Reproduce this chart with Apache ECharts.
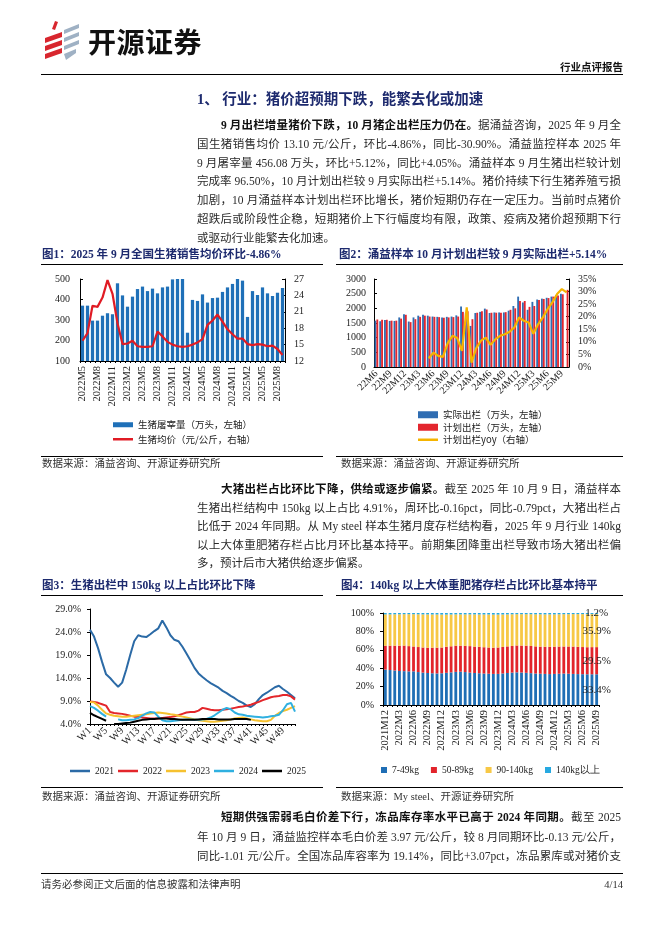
<!DOCTYPE html>
<html lang="zh-CN">
<head>
<meta charset="utf-8">
<script src="https://cdn.jsdelivr.net/npm/echarts@6.0.0/dist/echarts.min.js"></script>
<style>
html,body{margin:0;padding:0;background:#fff;}
#page{position:relative;width:662px;height:936px;overflow:hidden;background:#fff;}
#chart{position:absolute;left:0;top:0;width:662px;height:936px;}
.t{position:absolute;white-space:nowrap;font-family:"Liberation Serif","Noto Sans CJK SC",serif;color:#222;z-index:2;}
.p{position:absolute;left:197px;width:424px;height:19px;line-height:19px;font-size:11.5px;text-align:justify;text-align-last:justify;white-space:nowrap;font-family:"Liberation Serif","Noto Sans CJK SC",serif;color:#2a2a2a;z-index:2;}
.p.ind{padding-left:24px;width:400px;}
.p.last{text-align-last:left;}
.p b{font-weight:bold;color:#111;}
.hr{position:absolute;height:0;border-top:1px solid #000;z-index:2;}
.ct{font-size:11.5px;line-height:14px;font-weight:bold;color:#1d2a6e;}
.src{font-size:10.5px;line-height:13px;color:#333;}
</style>
</head>
<body>
<div id="page">
<div id="chart"></div>

<div class="t" style="left:88px;top:24px;font-size:28px;line-height:34px;font-weight:bold;color:#111;font-family:'Noto Sans CJK SC',sans-serif;letter-spacing:0.5px;">开源证券</div>
<div class="t" style="right:39px;top:61px;font-size:10.5px;line-height:13px;font-weight:bold;color:#111;">行业点评报告</div>
<div class="hr" style="left:41px;top:74px;width:582px;"></div>

<div class="t" style="left:197px;top:90px;font-size:14.5px;line-height:18px;font-weight:bold;color:#1d2a6e;">1、 行业：猪价超预期下跌，能繁去化或加速</div>

<div class="p ind" style="top:115.5px;"><b>9 月出栏增量猪价下跌，10 月猪企出栏压力仍在。</b>据涌益咨询，2025 年 9 月全</div>
<div class="p" style="top:134.5px;">国生猪销售均价 13.10 元/公斤，环比-4.86%，同比-30.90%。涌益监控样本 2025 年</div>
<div class="p" style="top:153.5px;">9 月屠宰量 456.08 万头，环比+5.12%，同比+4.05%。涌益样本 9 月生猪出栏较计划</div>
<div class="p" style="top:172px;">完成率 96.50%，10 月计划出栏较 9 月实际出栏+5.14%。猪价持续下行生猪养殖亏损</div>
<div class="p" style="top:190.5px;">加剧，10 月涌益样本计划出栏环比增长，猪价短期仍存在一定压力。当前时点猪价</div>
<div class="p" style="top:209.5px;">超跌后或阶段性企稳，短期猪价上下行幅度均有限，政策、疫病及猪价超预期下行</div>
<div class="p last" style="top:228.5px;">或驱动行业能繁去化加速。</div>

<div class="t ct" style="left:42px;top:247px;">图1：2025 年 9 月全国生猪销售均价环比-4.86%</div>
<div class="t ct" style="left:339px;top:247px;">图2：涌益样本 10 月计划出栏较 9 月实际出栏+5.14%</div>
<div class="hr" style="left:41px;top:264px;width:282px;"></div>
<div class="hr" style="left:336px;top:264px;width:287px;"></div>
<div class="hr" style="left:41px;top:456px;width:282px;"></div>
<div class="hr" style="left:336px;top:456px;width:287px;"></div>
<div class="t src" style="left:42px;top:457px;">数据来源：涌益咨询、开源证券研究所</div>
<div class="t src" style="left:341px;top:457px;">数据来源：涌益咨询、开源证券研究所</div>

<div class="p ind" style="top:480px;"><b>大猪出栏占比环比下降，供给或逐步偏紧。</b>截至 2025 年 10 月 9 日，涌益样本</div>
<div class="p" style="top:498.5px;">生猪出栏结构中 150kg 以上占比 4.91%，周环比-0.16pct，同比-0.79pct，大猪出栏占</div>
<div class="p" style="top:517px;">比低于 2024 年同期。从 My steel 样本生猪月度存栏结构看，2025 年 9 月行业 140kg</div>
<div class="p" style="top:535.5px;">以上大体重肥猪存栏占比月环比基本持平。前期集团降重出栏导致市场大猪出栏偏</div>
<div class="p last" style="top:554px;">多，预计后市大猪供给逐步偏紧。</div>

<div class="t ct" style="left:42px;top:578px;">图3：生猪出栏中 150kg 以上占比环比下降</div>
<div class="t ct" style="left:341px;top:578px;">图4：140kg 以上大体重肥猪存栏占比环比基本持平</div>
<div class="hr" style="left:41px;top:595px;width:282px;"></div>
<div class="hr" style="left:336px;top:595px;width:287px;"></div>
<div class="hr" style="left:41px;top:787px;width:282px;"></div>
<div class="hr" style="left:336px;top:787px;width:287px;"></div>
<div class="t src" style="left:42px;top:789.5px;">数据来源：涌益咨询、开源证券研究所</div>
<div class="t src" style="left:341px;top:789.5px;">数据来源：My steel、开源证券研究所</div>

<div class="p ind" style="top:808px;"><b>短期供强需弱毛白价差下行，冻品库存率水平已高于 2024 年同期。</b>截至 2025</div>
<div class="p" style="top:827.5px;">年 10 月 9 日，涌益监控样本毛白价差 3.97 元/公斤，较 8 月同期环比-0.13 元/公斤，</div>
<div class="p" style="top:846.5px;">同比-1.01 元/公斤。全国冻品库容率为 19.14%，同比+3.07pct，冻品累库或对猪价支</div>

<div class="hr" style="left:41px;top:873px;width:582px;border-top-width:1.5px;"></div>
<div class="t" style="left:41px;top:877.5px;font-size:10.5px;line-height:13px;color:#333;">请务必参阅正文后面的信息披露和法律声明</div>
<div class="t" style="right:39px;top:877.5px;font-size:10.5px;line-height:13px;color:#333;">4/14</div>
</div>

<script>
// ---------- Figure 1 ----------
const c1Months = ['2022M5','2022M6','2022M7','2022M8','2022M9','2022M10','2022M11','2022M12',
  '2023M1','2023M2','2023M3','2023M4','2023M5','2023M6','2023M7','2023M8','2023M9','2023M10','2023M11','2023M12',
  '2024M1','2024M2','2024M3','2024M4','2024M5','2024M6','2024M7','2024M8','2024M9','2024M10','2024M11','2024M12',
  '2025M1','2025M2','2025M3','2025M4','2025M5','2025M6','2025M7','2025M8','2025M9'];
const c1Slaughter = [370,370,297,297,321,333,328,479,420,365,414,451,463,441,453,430,459,463,498,503,
  503,238,398,393,425,385,407,409,437,459,476,503,492,315,441,422,459,430,417,433,456.08];
const c1Price = [15.7,17.1,22.1,21.9,23.6,26.8,24.3,18.9,15.1,15.2,15.7,14.7,14.6,14.6,14.7,17.4,16.5,15.5,15.0,14.7,
  14.6,14.7,15.0,15.4,16.0,18.6,19.4,20.5,19.2,17.8,16.9,16.1,16.1,15.1,14.9,15.1,15.0,14.7,14.8,14.2,13.1];
const c1Names = ['生猪屠宰量（万头，左轴）','生猪均价（元/公斤，右轴）'];

// ---------- Figure 2 ----------
const c2Months = ['22M6','22M7','22M8','22M9','22M10','22M11','22M12',
  '23M1','23M2','23M3','23M4','23M5','23M6','23M7','23M8','23M9','23M10','23M11','23M12',
  '24M1','24M2','24M3','24M4','24M5','24M6','24M7','24M8','24M9','24M10','24M11','24M12',
  '25M1','25M2','25M3','25M4','25M5','25M6','25M7','25M8','25M9','25M10'];
const c2Actual = [1580,1560,1600,1570,1570,1690,1800,1550,1690,1750,1780,1750,1720,1710,1690,1710,1720,1760,2060,
  1850,1400,1840,1880,1990,1840,1860,1860,1860,1920,2080,2400,2200,1950,2220,2300,2330,2360,2400,2450,2500,null];
const c2Plan = [1620,1610,1610,1580,1580,1650,1780,1530,1630,1710,1750,1720,1710,1700,1680,1690,1700,1720,1880,
  1900,1630,1850,1900,1960,1850,1850,1850,1870,1950,2000,2250,2250,2050,2080,2280,2320,2350,2400,2440,2480,2630];
const c2Yoy = [null,null,null,null,null,null,null,null,null,null,null,
  3.5,5.7,4.4,4.0,9.5,12.4,11.5,6.4,23.7,1.7,7.5,10.5,11.7,8.8,11.0,12.4,13.0,14.0,15.7,
  19.7,18.4,17.7,13.2,17.0,19.7,23.0,25.7,29.0,31.0,29.7];
const c2Names = ['实际出栏（万头，左轴）','计划出栏（万头，左轴）','计划出栏yoy（右轴）'];

// ---------- Figure 3 ----------
const c3Weeks = ['W1','W2','W3','W4','W5','W6','W7','W8','W9','W10','W11','W12','W13','W14','W15','W16','W17','W18',
  'W19','W20','W21','W22','W23','W24','W25','W26','W27','W28','W29','W30','W31','W32','W33','W34','W35','W36',
  'W37','W38','W39','W40','W41','W42','W43','W44','W45','W46','W47','W48','W49','W50','W51','W52'];
const c3Y2021 = [24.5,23.0,20.5,17.5,14.8,14.0,13.0,12.1,13.0,15.8, 19.0,22.0,23.3,23.0,22.9,23.5,24.2,24.8,26.5,25.0,
  23.3,22.3,22.0,20.8,19.3,17.8,16.2,15.0,14.2,13.5, 12.9,12.4,11.9,11.2,10.7,10.1,9.6,9.0,8.6,8.0,
  7.7,8.3,9.4,10.3,10.8,11.4,12.0,12.3,11.6,11.0, 10.3,9.6];
const c3Y2022 = [8.9,8.8,8.6,8.3,8.0,6.6,6.4,6.3,6.2,6.0, 5.8,5.6,5.5,5.4,5.3,5.2,5.2,5.2,5.3,5.4,
  5.5,5.7,5.9,6.2,6.5,6.6,6.6,6.9,7.5,7.3, 7.1,7.0,7.0,7.1,7.2,7.3,7.5,7.7,7.8,8.0,
  8.2,8.5,8.8,9.2,9.5,9.8,10.0,10.1,10.3,10.3, 10.0,9.3];
const c3Y2023 = [8.8,8.7,8.0,7.1,6.3,6.0,5.8,5.7,5.6,5.6, 5.7,5.8,5.9,6.0,6.1,6.3,6.4,6.5,6.4,6.3,
  6.1,6.0,5.8,5.6,5.4,5.2,5.0,4.8,4.7,4.6, 4.5,4.5,4.6,4.7,4.8,5.0,5.2,5.3,5.4,5.2,
  5.0,4.8,4.7,4.6,4.6,4.9,5.8,6.4,6.8,7.1, 7.5,7.9];
const c3Y2024 = [7.9,7.5,6.9,6.2,5.6,null,null,5.0,4.8,4.8, 4.9,5.0,5.3,5.8,6.3,6.6,6.5,5.6,4.8,4.6,
  4.6,4.7,4.8,4.9,5.0,5.0,4.9,4.9,5.0,5.1, 5.4,5.9,6.5,7.1,7.5,7.2,6.5,6.1,6.0,5.8,
  5.7,5.6,5.5,5.4,5.5,5.7,5.8,6.0,7.0,8.3, 8.6,6.7];
const c3Y2025 = [6.4,5.9,5.5,5.1,4.7,null,4.0,4.0,4.1,4.2, 4.3,4.5,4.7,4.9,5.0,5.1,5.1,5.2,5.2,5.2,
  5.1,5.1,5.0,4.9,4.9,4.9,4.9,5.0,5.1,5.1, 5.1,5.1,5.0,5.0,5.0,5.0,5.1,5.1,5.1,5.1, 4.9];
const c3Ticks = [4,9,14,19,24,29];
const c3Years = ['2021','2022','2023','2024','2025'];

// ---------- Figure 4 ----------
const c4Months = ['2021M12','2022M1','2022M2','2022M3','2022M4','2022M5','2022M6','2022M7','2022M8','2022M9','2022M10','2022M11','2022M12',
  '2023M1','2023M2','2023M3','2023M4','2023M5','2023M6','2023M7','2023M8','2023M9','2023M10','2023M11','2023M12',
  '2024M1','2024M2','2024M3','2024M4','2024M5','2024M6','2024M7','2024M8','2024M9','2024M10','2024M11','2024M12',
  '2025M1','2025M2','2025M3','2025M4','2025M5','2025M6','2025M7','2025M8','2025M9'];
const c4W7_49 = [38.5,38.0,37.5,37.0,36.8,36.5,36.6,35.8,35.2,34.8,34.5,34.3,34.5,35.0,35.5,36.0,36.2,35.8,35.2,34.8,
  34.5,34.2,34.0,33.8,33.8,34.3,34.8,35.2,35.5,35.3,35.0,34.6,34.2,34.0,33.8,33.6,33.8,34.0,34.2,34.0,
  33.8,33.6,33.5,33.4,33.4,33.4];
const c4W50_89 = [26.0,26.5,27.0,27.5,27.8,27.5,27.0,27.2,27.3,27.5,27.8,28.0,28.0,28.3,28.3,28.5,28.3,28.5,28.8,28.7,
  28.8,28.6,28.5,28.5,28.7,28.8,28.9,29.0,29.2,29.3,29.5,29.6,29.5,29.4,29.5,29.6,29.6,29.5,29.4,29.6,
  29.7,29.6,29.5,29.4,29.5,29.5];
const c4W90_140 = [34.0,34.0,34.1,34.1,34.1,34.7,35.1,35.6,36.0,36.2,36.1,36.1,35.8,35.0,34.6,34.0,34.0,34.2,34.5,35.0,
  35.1,35.6,35.9,36.0,35.8,35.3,34.8,34.4,34.0,34.1,34.2,34.5,34.9,35.2,35.2,35.3,35.1,35.1,35.1,35.1,
  35.3,35.6,35.8,36.0,35.9,35.9];
const c4W140 = [1.5,1.5,1.4,1.4,1.3,1.3,1.3,1.4,1.5,1.5,1.6,1.6,1.7,1.7,1.6,1.5,1.5,1.5,1.5,1.5,
  1.6,1.6,1.6,1.7,1.7,1.6,1.5,1.4,1.3,1.3,1.3,1.3,1.4,1.4,1.5,1.5,1.5,1.4,1.3,1.3,
  1.2,1.2,1.2,1.2,1.2,1.2];
const c4Names = ['7-49kg','50-89kg','90-140kg','140kg以上'];

// ---------- build ----------
const serif = 'Liberation Serif';
const cjk = 'Noto Sans CJK SC';
const lab = {color:'#222', fontSize:10, fontFamily:serif};
const axl = {show:true, lineStyle:{color:'#000', width:1}};
const noSplit = {show:false};
const lineIcon = 'path://M0,0L24,0L24,3L0,3Z';

function lastLabel(arr){
  return arr.map((v,i)=> i===arr.length-1 ? {value:v, label:{show:true, position:'inside', formatter:'{c}%', color:'#222', fontSize:11, fontFamily:serif}} : v);
}

const red = '#d8262e', grey = '#9fb1c4';
const logo = [
  {type:'polygon', shape:{points:[[52,29],[55,21],[58,22],[55,30]]}, style:{fill:red}},
  {type:'polygon', shape:{points:[[45,38],[62,32],[62,37],[45,43]]}, style:{fill:red}},
  {type:'polygon', shape:{points:[[45,46],[62,40],[62,45],[45,51]]}, style:{fill:red}},
  {type:'polygon', shape:{points:[[45,54],[62,48],[62,53],[45,59]]}, style:{fill:red}},
  {type:'polygon', shape:{points:[[64,30],[79,24],[79,28],[64,34]]}, style:{fill:grey}},
  {type:'polygon', shape:{points:[[64,38],[79,32],[79,36],[64,42]]}, style:{fill:grey}},
  {type:'polygon', shape:{points:[[64,46],[79,40],[79,44],[64,50]]}, style:{fill:grey}},
  {type:'polygon', shape:{points:[[64,54],[76,49],[76,53],[66,60]]}, style:{fill:grey}}
];

const chart = echarts.init(document.getElementById('chart'));
chart.setOption({
  animation:false,
  backgroundColor:'#fff',
  textStyle:{fontFamily:serif},
  graphic: logo,
  grid:[
    {left:80, top:279, width:205, height:82},
    {left:374, top:279, width:195, height:88},
    {left:90, top:609, width:205, height:115},
    {left:383, top:613, width:216, height:92}
  ],
  xAxis:[
    {type:'category', gridIndex:0, data:c1Months, axisLine:axl, axisTick:{show:true, interval:0, length:2}, axisLabel:{...lab, fontSize:10.5, rotate:90, interval:2, margin:5, hideOverlap:false, showMinLabel:true}},
    {type:'category', gridIndex:1, data:c2Months, axisLine:axl, axisTick:{show:false}, axisLabel:{...lab, fontSize:10, rotate:45, interval:2, margin:5, hideOverlap:false, showMinLabel:true}},
    {type:'category', gridIndex:2, data:c3Weeks, boundaryGap:false, axisLine:axl, axisTick:{show:true, interval:0, length:2}, axisLabel:{...lab, fontSize:10.5, rotate:45, interval:3, margin:5, hideOverlap:false, showMinLabel:true}},
    {type:'category', gridIndex:3, data:c4Months, axisLine:axl, axisTick:{show:true, interval:0, length:2}, axisLabel:{...lab, fontSize:10.5, rotate:90, interval:2, margin:5, hideOverlap:false, showMinLabel:true}}
  ],
  yAxis:[
    {type:'value', gridIndex:0, min:100, max:500, interval:100, axisLine:axl, axisTick:{show:true, inside:true, length:3}, splitLine:noSplit, axisLabel:{...lab, margin:10}},
    {type:'value', gridIndex:0, position:'right', min:12, max:27, interval:3, axisLine:axl, axisTick:{show:true, inside:true, length:3}, splitLine:noSplit, axisLabel:{...lab, margin:9}},
    {type:'value', gridIndex:1, min:0, max:3000, interval:500, axisLine:axl, axisTick:{show:true, inside:true, length:3}, splitLine:noSplit, axisLabel:{...lab, margin:8, formatter:v=>String(v)}},
    {type:'value', gridIndex:1, position:'right', min:0, max:35, interval:5, axisLine:axl, axisTick:{show:true, inside:true, length:3}, splitLine:noSplit, axisLabel:{...lab, margin:9, formatter:'{value}%'}},
    {type:'value', gridIndex:2, min:4, max:29, axisLine:axl, axisTick:{show:true, length:3, customValues:c3Ticks}, splitLine:noSplit, axisLabel:{...lab, margin:9, customValues:c3Ticks, formatter:v=>v.toFixed(1)+'%'}},
    {type:'value', gridIndex:3, min:0, max:100, interval:20, axisLine:axl, axisTick:{show:true, length:3}, splitLine:noSplit, axisLabel:{...lab, margin:9, formatter:'{value}%'}}
  ],
  legend:[
    {orient:'vertical', left:108, top:415, itemWidth:20, itemHeight:5, itemGap:5,
     textStyle:{fontSize:9.5, color:'#222', fontFamily:cjk},
     data:[{name:c1Names[0], icon:'rect'}, {name:c1Names[1], icon:lineIcon}]},
    {orient:'vertical', left:413, top:405, itemWidth:20, itemHeight:7, itemGap:3,
     textStyle:{fontSize:9.5, color:'#222', fontFamily:cjk},
     data:[{name:c2Names[0], icon:'rect'}, {name:c2Names[1], icon:'rect'}, {name:c2Names[2], icon:lineIcon}]},
    {orient:'horizontal', left:65, top:761, itemWidth:20, itemHeight:6, itemGap:4,
     textStyle:{fontSize:9.5, color:'#222', fontFamily:serif},
     data:c3Years.map(n=>({name:n, icon:lineIcon}))},
    {orient:'horizontal', left:376, top:760, itemWidth:6, itemHeight:6, itemGap:12,
     textStyle:{fontSize:9.5, color:'#222', fontFamily:serif},
     data:c4Names.map(n=>({name:n, icon:'rect'}))}
  ],
  series:[
    {name:c1Names[0], type:'bar', xAxisIndex:0, yAxisIndex:0, data:c1Slaughter, barCategoryGap:'35%', itemStyle:{color:'#1f70b8'}},
    {name:c1Names[1], type:'line', xAxisIndex:0, yAxisIndex:1, data:c1Price, symbol:'none', lineStyle:{color:'#e01b24', width:2.2}, itemStyle:{color:'#e01b24'}},
    {name:c2Names[0], type:'bar', xAxisIndex:1, yAxisIndex:2, data:c2Actual, barGap:'0%', barCategoryGap:'22%', itemStyle:{color:'#2f6db2'}},
    {name:c2Names[1], type:'bar', xAxisIndex:1, yAxisIndex:2, data:c2Plan, barGap:'0%', barCategoryGap:'22%', itemStyle:{color:'#e3262e'}},
    {name:c2Names[2], type:'line', xAxisIndex:1, yAxisIndex:3, data:c2Yoy, symbol:'none', connectNulls:false, lineStyle:{color:'#f5b400', width:2.2}, itemStyle:{color:'#f5b400'}},
    {name:c3Years[0], type:'line', xAxisIndex:2, yAxisIndex:4, data:c3Y2021, symbol:'none', lineStyle:{color:'#2b6aa6', width:2}, itemStyle:{color:'#2b6aa6'}},
    {name:c3Years[1], type:'line', xAxisIndex:2, yAxisIndex:4, data:c3Y2022, symbol:'none', lineStyle:{color:'#e3262b', width:2}, itemStyle:{color:'#e3262b'}},
    {name:c3Years[2], type:'line', xAxisIndex:2, yAxisIndex:4, data:c3Y2023, symbol:'none', lineStyle:{color:'#f6c12f', width:2}, itemStyle:{color:'#f6c12f'}},
    {name:c3Years[3], type:'line', xAxisIndex:2, yAxisIndex:4, data:c3Y2024, symbol:'none', lineStyle:{color:'#2fb0e0', width:2}, itemStyle:{color:'#2fb0e0'}},
    {name:c3Years[4], type:'line', xAxisIndex:2, yAxisIndex:4, data:c3Y2025, symbol:'none', lineStyle:{color:'#000', width:2}, itemStyle:{color:'#000'}},
    {name:c4Names[0], type:'bar', stack:'s4', xAxisIndex:3, yAxisIndex:5, data:lastLabel(c4W7_49), barCategoryGap:'40%', itemStyle:{color:'#1f6eb5'}},
    {name:c4Names[1], type:'bar', stack:'s4', xAxisIndex:3, yAxisIndex:5, data:lastLabel(c4W50_89), itemStyle:{color:'#e2242b'}},
    {name:c4Names[2], type:'bar', stack:'s4', xAxisIndex:3, yAxisIndex:5, data:lastLabel(c4W90_140), itemStyle:{color:'#f7c846'}},
    {name:c4Names[3], type:'bar', stack:'s4', xAxisIndex:3, yAxisIndex:5, data:lastLabel(c4W140), itemStyle:{color:'#27a9e1'}}
  ]
});
</script>
</body>
</html>
